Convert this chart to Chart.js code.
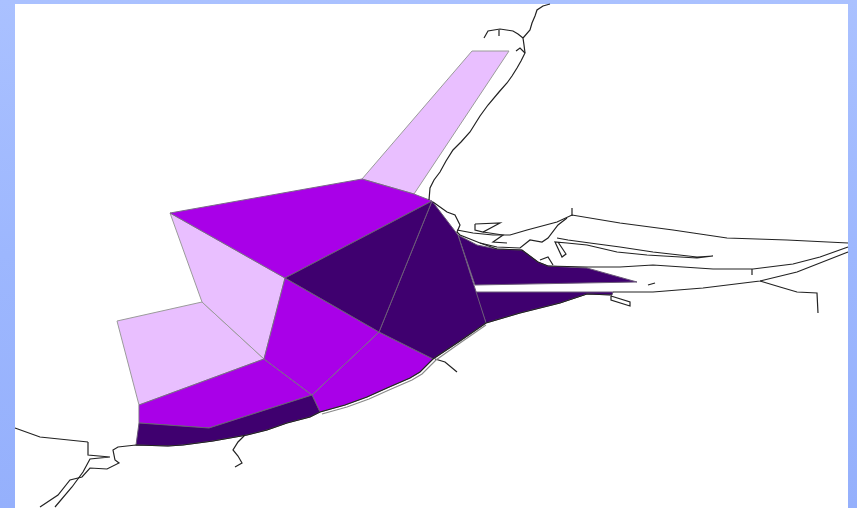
<!DOCTYPE html>
<html>
<head>
<meta charset="utf-8">
<title>Zone map</title>
<script src="https://cdn.jsdelivr.net/npm/chart.js@4/dist/chart.umd.min.js"></script>
<style>
  html, body { margin: 0; padding: 0; width: 857px; height: 508px; overflow: hidden; }
  body { background: linear-gradient(to bottom, #aac1ff 0, #9db7fe 50%, #95b0fc 100%); position: relative; }
  #panel { position: absolute; left: 15px; top: 4px; width: 833px; height: 504px; background: #fff; }
  #wrap { position: absolute; left: 0; top: 0; width: 857px; height: 508px; filter: blur(0.45px); }
</style>
</head>
<body>
<div id="panel"></div>
<div id="wrap"><canvas id="map" width="857" height="508"></canvas></div>
<script>
// Zones as [x, y] pairs
const northStrip = [[362,179],[472,51],[509,51],[414,194]];
const northWide = [[170,213],[362,179],[414,194],[432,201],[285,278]];
const westUpper = [[170,213],[285,278],[264,359],[202,302]];
const westLower = [[202,302],[264,359],[139,405],[117,321]];
const midCentre = [[285,278],[379,332],[312,395],[264,359]];
const midSouth = [[379,332],[433,359],[420,372],[410,378],[387,388],[367,397],[345,405],[320,412],[312,395]];
const southWest = [[264,359],[312,395],[209,428],[139,423],[139,405]];
const southShore = [[139,423],[209,428],[312,395],[320,412],[310,417],[287,423],[267,430],[247,435],[213,441],[183,445],[168,446],[136,445]];
const innerA = [[285,278],[432,201],[379,332]];
const innerB = [[432,201],[458,235],[486,323],[460,341],[433,359],[379,332]];
const bayUpper = [[458,235],[477,245],[497,249],[522,250],[538,262],[548,266],[587,268],[637,282],[475,285]];
const bayLower = [[475,292],[613,292],[612,295],[587,294],[560,303],[520,313],[486,323]];

// Shoreline and rivers
const shoreNorth = [[550,4],[543,6],[537,10],[535,16],[532,23],[530,30],[523,38],[524,45],[525,53],[521,61],[517,68],[512,76],[507,83],[499,92],[488,105],[480,116],[470,132],[461,142],[453,150],[446,161],[440,172],[434,180],[430,188],[429,200]];
const spit = [[523,38],[518,34],[513,31],[500,29],[488,31],[484,38]];
const spitTick = [[499,30],[499,36]];
const hook = [[516,51],[520,48],[525,53]];
const shoreCape = [[433,202],[447,212],[455,215],[460,225],[457,232],[460,235],[480,243],[497,249],[522,250],[538,262],[548,266]];
const harbourBar = [[457,230],[473,233],[493,235],[510,235],[527,230],[557,222],[572,215],[620,223],[673,230],[727,238],[787,240],[848,243]];
const barSpike = [[572,216],[572,208]];
const harbourInner = [[480,243],[497,247],[520,248],[530,240],[542,242],[548,238],[558,225],[567,218]];
const harbourA = [[475,224],[500,223],[483,232],[475,230],[475,224]];
const harbourB = [[483,232],[503,235],[493,242],[507,243]];
const channel = [[557,238],[568,240],[590,243],[620,247],[653,252],[697,257],[713,256],[697,258],[647,255],[617,252],[587,245],[567,243],[555,242],[562,257],[566,254],[558,242]];
const bayNorth = [[548,266],[587,267],[620,267],[653,265],[713,269],[753,269],[793,264],[820,257],[848,247]];
const bayArc = [[540,260],[548,257],[553,265]];
const bayTick = [[752,269],[752,275]];
const bayDash = [[648,285],[655,283]];
const baySouth = [[613,292],[653,292],[703,288],[760,281],[797,272],[848,252]];
const eastRiver = [[760,281],[780,287],[797,292],[817,293],[818,313]];
const jetty = [[611,296],[630,302],[630,306],[611,300],[611,296]];
const shoreSouth = [[612,295],[587,294],[560,303],[520,313],[486,323],[460,341],[433,359],[420,372],[410,378],[387,388],[367,397],[345,405],[320,412],[310,417],[287,423],[267,430],[247,435],[213,441],[183,445],[168,446],[136,445],[118,447],[113,450],[115,460],[119,463],[107,469],[90,468],[82,477],[70,480],[58,495],[40,507]];
const shoreGhost = [[486,325],[460,343],[436,360],[422,374],[412,380],[389,390],[369,399],[347,407],[322,414]];
const creek = [[435,359],[445,362],[457,372]];
const southRiver = [[245,435],[238,442],[233,450],[238,456],[242,463],[235,467]];
const westLine = [[15,428],[40,437],[88,442]];
const westChannel = [[88,442],[88,455],[110,457],[90,459],[83,472],[72,487],[55,507]];

const darkZones = [innerA, innerB, bayUpper, bayLower, southShore];
const midZones = [northWide, midCentre, midSouth, southWest];
const lightZones = [northStrip, westUpper, westLower];
const shoreLines = [shoreNorth, spit, spitTick, hook, shoreCape, harbourBar, barSpike, harbourInner,
  harbourA, harbourB, channel, bayNorth, bayArc, bayTick, bayDash, baySouth, eastRiver, jetty,
  shoreSouth, shoreGhost, creek, southRiver, westLine, westChannel];

const toPoints = pts => pts.map(p => ({ x: p[0], y: p[1] }));

function zoneDataset(pts, color, edge) {
  return {
    data: toPoints(pts.concat([pts[0]])),
    showLine: true,
    fill: 'shape',
    backgroundColor: color,
    borderColor: edge,
    borderWidth: 1,
    pointRadius: 0,
    tension: 0
  };
}

function shoreDataset(pts) {
  return {
    data: toPoints(pts),
    showLine: true,
    fill: false,
    borderColor: pts === shoreGhost ? '#8a8a8a' : '#222222',
    borderWidth: 1.2,
    pointRadius: 0,
    tension: 0
  };
}

// first dataset ends up on top, so the shoreline goes first
const datasets = [
  ...shoreLines.map(shoreDataset),
  ...darkZones.map(z => zoneDataset(z, '#3f006f', '#6b5a78')),
  ...midZones.map(z => zoneDataset(z, '#a900e8', '#7a6a88')),
  ...lightZones.map(z => zoneDataset(z, '#e9bfff', '#9a9a9a'))
];

new Chart(document.getElementById('map'), {
  type: 'scatter',
  data: { datasets },
  options: {
    responsive: false,
    animation: false,
    layout: { padding: 0 },
    plugins: { legend: { display: false }, tooltip: { enabled: false } },
    scales: {
      x: { display: false, min: 0, max: 857 },
      y: { display: false, min: 0, max: 508, reverse: true }
    }
  }
});
</script>
</body>
</html>
